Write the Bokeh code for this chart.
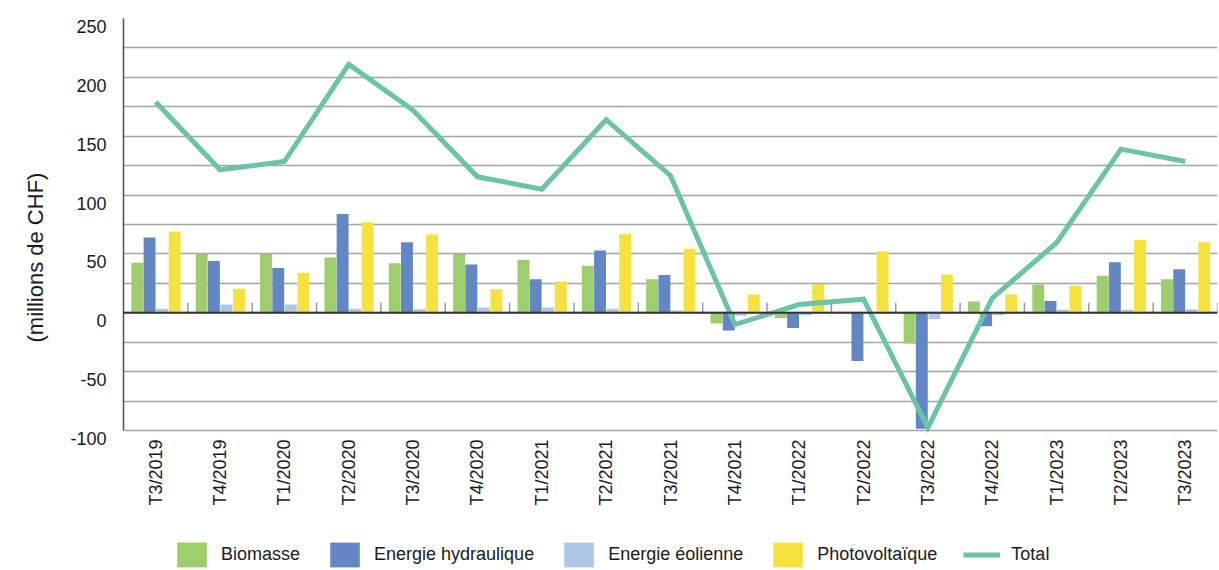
import math
from bokeh.plotting import figure
from bokeh.layouts import column
from bokeh.models import (ColumnDataSource, Legend, LegendItem, Span, LinearAxis,
                          SingleIntervalTicker, FixedTicker, Range1d, Title)
from bokeh.transform import dodge
from bokeh.embed import file_html
from bokeh.resources import INLINE

categories = ["T3/2019", "T4/2019", "T1/2020", "T2/2020", "T3/2020", "T4/2020",
              "T1/2021", "T2/2021", "T3/2021", "T4/2021", "T1/2022", "T2/2022",
              "T3/2022", "T4/2022", "T1/2023", "T2/2023", "T3/2023"]
biomasse = [42.5, 50, 50, 47, 42, 50, 45, 40, 28.5, -9, -4.5, -0.5, -26, 9.5, 24, 31.5, 28.5]
hydraulique = [64, 44, 38, 84, 60, 41, 28.5, 53, 32, -15, -13, -41, -98.5, -11.5, 10, 43, 37]
eolienne = [3.5, 7, 7, 3.5, 3, 4.5, 4.5, 3.5, 2, -2.5, -2, 0, -5.5, -2, 2.5, 2.5, 3]
photovoltaique = [69, 20.5, 34, 77, 66.5, 20, 26.5, 67, 54.5, 15.5, 24.5, 52, 32.5, 15.5, 23, 62, 60]
total = [179, 121.5, 128.5, 211, 172, 115.5, 105, 164, 116.5, -10, 7, 11.5, -97.5, 12.5, 59.5, 139, 128.5]

y_tick_values = [-100, -50, 0, 50, 100, 150, 200, 250]
series_names = ["Biomasse", "Energie hydraulique", "Energie éolienne", "Photovoltaïque"]
series_colors = ["#9dce6b", "#6387c5", "#aec6e8", "#f5e23e"]
total_name = "Total"
total_color = "#6bc4a4"
y_title = "(millions de CHF)"

FONT = "Liberation Sans"
TXT = "#1a1a1a"

Y_MIN, Y_MAX = -100, 250
PX_PER_UNIT = 412 / (Y_MAX - Y_MIN)      # plot area 412 px tall for -100..250
EXTRA_BOTTOM = 9 / PX_PER_UNIT           # room under -100 for its label
LABEL_SHIFT = 8 / PX_PER_UNIT            # tick labels sit 8 px below their lines

source = ColumnDataSource(dict(cat=categories, bio=biomasse, hyd=hydraulique,
                               eol=eolienne, pv=photovoltaique, tot=total,
                               zero=[0] * len(categories),
                               tick=[8.5] * len(categories)))

p = figure(x_range=categories, y_range=Range1d(Y_MIN - EXTRA_BOTTOM, Y_MAX),
           width=1219, height=539, output_backend="svg", toolbar_location=None,
           min_border_left=122, min_border_right=2, min_border_top=18,
           min_border_bottom=100)
p.outline_line_color = None
p.background_fill_color = "white"
p.x_range.range_padding = 0

# grid
p.xgrid.grid_line_color = None
p.ygrid.ticker = SingleIntervalTicker(interval=25)
p.ygrid.bounds = (Y_MIN, Y_MAX)
p.ygrid.grid_line_color = "#a2a6aa"
p.ygrid.grid_line_width = 1.5
p.left[0].visible = False

# label axis: shifted range so labels fall 8 px under their grid lines
p.extra_y_ranges = {"lab": Range1d(Y_MIN - EXTRA_BOTTOM + LABEL_SHIFT, Y_MAX + LABEL_SHIFT)}
lab_axis = LinearAxis(y_range_name="lab", ticker=FixedTicker(ticks=y_tick_values),
                      bounds=(Y_MIN + LABEL_SHIFT, Y_MAX + LABEL_SHIFT),
                      major_label_overrides={v: str(v) for v in y_tick_values},
                      axis_line_color="#4d4d4d", axis_line_width=1.5,
                      major_tick_line_color=None, minor_tick_line_color=None,
                      major_tick_out=0, major_tick_in=0,
                      major_label_standoff=17, major_label_text_font=FONT,
                      major_label_text_font_size="18px", major_label_text_color=TXT)
p.add_layout(lab_axis, "left")

# y title, placed lower than the frame centre like the original
p.add_layout(Title(text=y_title, align="left", offset=97, standoff=40,
                   text_font=FONT, text_font_size="22px", text_font_style="normal",
                   text_color=TXT), "left")

# x axis
p.xaxis.axis_line_color = None
p.xaxis.major_tick_line_color = None
p.xaxis.minor_tick_line_color = None
p.xaxis.major_tick_out = 0
p.xaxis.major_tick_in = 0
p.xaxis.major_label_orientation = math.pi / 2
p.xaxis.major_label_standoff = 0
p.xaxis.major_label_text_font = FONT
p.xaxis.major_label_text_font_size = "18px"
p.xaxis.major_label_text_color = TXT

offsets = [-0.285, -0.095, 0.1, 0.295]
cols = ["bio", "hyd", "eol", "pv"]
for col, off, color in zip(cols, offsets, series_colors):
    p.vbar(x=dodge("cat", off, range=p.x_range), top=col, bottom=0, width=0.185,
           source=source, fill_color=color, line_color=None)

# category boundary ticks on zero line
p.segment(x0=dodge("cat", 0.5, range=p.x_range), x1=dodge("cat", 0.5, range=p.x_range),
          y0="zero", y1="tick", source=source, line_color="#9a9a9a", line_width=1.5)

p.add_layout(Span(location=0, dimension="width", line_color="#333333", line_width=2))

p.line(x="cat", y="tot", source=source, line_color=total_color, line_width=5,
       line_join="miter")

# legend strip as its own small figure under the chart (series drawn out of view)
lf = figure(width=1219, height=31, output_backend="svg", toolbar_location=None,
            x_range=categories, y_range=Range1d(5000, 5001),
            x_axis_location=None, y_axis_location=None,
            min_border=0, min_border_left=0, min_border_right=0,
            min_border_top=0, min_border_bottom=0)
lf.outline_line_color = None
lf.grid.visible = False
items = []
for name, col, color in zip(series_names, cols, series_colors):
    r = lf.vbar(x="cat", top=col, bottom=0, width=0.185, source=source,
                fill_color=color, line_color=None)
    items.append(LegendItem(label=name, renderers=[r]))
rl = lf.line(x="cat", y="tot", source=source, line_color=total_color, line_width=5)
items.append(LegendItem(label=total_name, renderers=[rl]))
legend = Legend(items=items, orientation="horizontal", location=(50, 0),
                glyph_width=37, glyph_height=31, label_standoff=11, spacing=26,
                padding=0, margin=0, border_line_color=None, background_fill_alpha=0,
                label_text_font=FONT, label_text_font_size="18px",
                label_text_color=TXT, label_height=31)
lf.add_layout(legend)

layout = column(p, lf, spacing=0)
open("out.html", "w").write(file_html(layout, INLINE))
